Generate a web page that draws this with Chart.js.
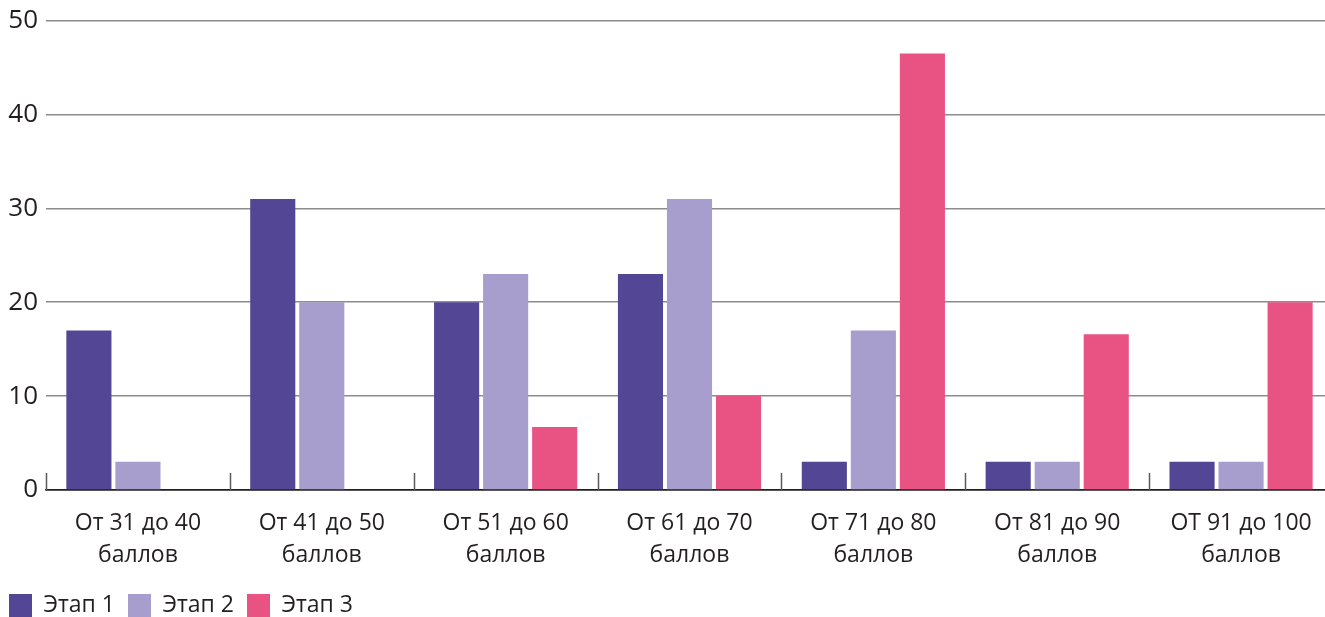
<!DOCTYPE html>
<html lang="ru">
<head>
<meta charset="utf-8">
<script src="https://cdn.jsdelivr.net/npm/chart.js@4/dist/chart.umd.min.js"></script>
<style>
  html, body { margin: 0; padding: 0; background: #fff; overflow: hidden; }
  #wrap { width: 1334px; height: 630px; margin-top: -3px; }
</style>
</head>
<body>
<div id="wrap"><canvas id="chart" width="1334" height="630"></canvas></div>
<script>
// Score bands (two-line labels)
const categories = [
  ['От 31 до 40', 'баллов'],
  ['От 41 до 50', 'баллов'],
  ['От 51 до 60', 'баллов'],
  ['От 61 до 70', 'баллов'],
  ['От 71 до 80', 'баллов'],
  ['От 81 до 90', 'баллов'],
  ['ОТ 91 до 100', 'баллов']
];

const stage1 = [17, 31, 20, 23, 3, 3, 3];
const stage2 = [3, 20, 23, 31, 17, 3, 3];
const stage3 = [0, 0, 6.7, 10, 46.5, 16.6, 20];

const seriesNames = ['Этап 1', 'Этап 2', 'Этап 3'];
const seriesColors = ['#534695', '#a79ecd', '#e95384'];

const yTicks = [0, 10, 20, 30, 40, 50];

const textColor = '#231f20';
const fontFamily = '"Open Sans", "Noto Sans", sans-serif';

// Short upward ticks at the category boundaries along the baseline
const boundaryTicks = {
  id: 'boundaryTicks',
  afterDatasetsDraw(chart) {
    const x = chart.scales.x;
    const y = chart.scales.y;
    const ctx = chart.ctx;
    const n = chart.data.labels.length;
    const step = (x.right - x.left) / n;
    const base = y.getPixelForValue(0);
    ctx.save();
    ctx.strokeStyle = '#5a5a5a';
    ctx.lineWidth = 1.5;
    for (let i = 0; i <= n; i++) {
      const px = Math.round(x.left + i * step) + 0.5;
      ctx.beginPath();
      ctx.moveTo(px, base);
      ctx.lineTo(px, base - 17);
      ctx.stroke();
    }
    ctx.restore();
  }
};

new Chart(document.getElementById('chart'), {
  type: 'bar',
  data: {
    labels: categories,
    datasets: [stage1, stage2, stage3].map((d, i) => ({
      label: seriesNames[i],
      data: d,
      backgroundColor: seriesColors[i],
      borderWidth: 0,
      categoryPercentage: 0.8,
      barPercentage: 0.92
    }))
  },
  options: {
    responsive: false,
    animation: false,
    layout: { padding: { top: 3, right: 1, left: -4, bottom: 0 } },
    plugins: {
      tooltip: { enabled: false },
      legend: {
        position: 'bottom',
        align: 'start',
        labels: {
          color: textColor,
          font: { family: fontFamily, size: 23 },
          boxWidth: 23,
          boxHeight: 23,
          padding: 13
        }
      }
    },
    scales: {
      x: {
        grid: { display: false },
        border: { display: true, color: textColor, width: 1.5 },
        ticks: {
          color: textColor,
          font: { family: fontFamily, size: 23, lineHeight: 1.39 },
          padding: 9,
          maxRotation: 0,
          autoSkip: false
        },
        afterFit(scale) { scale.height = 91; }
      },
      y: {
        min: 0,
        max: 50,
        afterBuildTicks(scale) { scale.ticks = yTicks.map(v => ({ value: v })); },
        grid: {
          color: ctx => ctx.tick && ctx.tick.value === 0 ? textColor : '#8c8c8c',
          lineWidth: 1.5,
          drawTicks: false
        },
        border: { display: false },
        ticks: {
          color: textColor,
          font: { family: fontFamily, size: 26 },
          padding: 8
        },
        afterFit(scale) { scale.width = 50; }
      }
    }
  },
  plugins: [boundaryTicks]
});
</script>
</body>
</html>
